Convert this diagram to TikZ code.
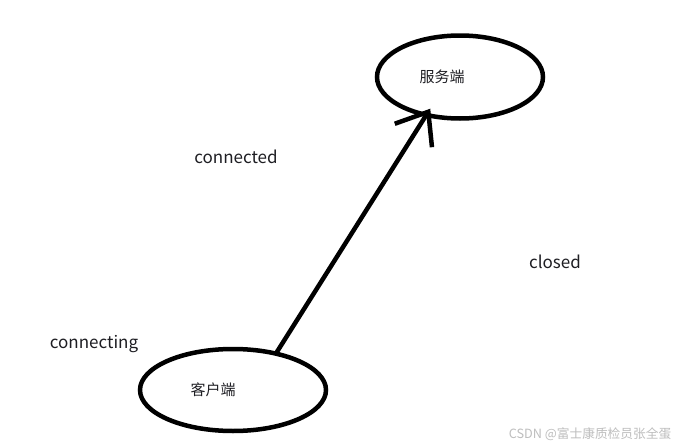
\documentclass[tikz,border=0pt]{standalone}
\usepackage{fontspec}
\setmainfont{Noto Sans CJK SC}
\usetikzlibrary{arrows.meta,shapes.geometric}
\definecolor{ink}{RGB}{30,30,35}
\definecolor{mark}{RGB}{190,190,190}

\begin{document}
\begin{tikzpicture}[x=1pt,y=-1pt,>={Straight Barb[length=28pt,width=44pt]},
  every node/.style={font=\fontsize{15}{18}\selectfont,text=ink},
  ell/.style={draw=black,ellipse,line width=4.5pt,inner sep=0pt},
  lbl/.style={font=\fontsize{17}{20}\selectfont}]
\useasboundingbox[fill=white] (0,0) rectangle (675,447);
% states
\node[ell,minimum width=166pt,minimum height=83pt] (sv) at (460,77) {};
\node[ell,minimum width=186pt,minimum height=82pt] (cl) at (233,390) {};
\node at ([xshift=-18pt]sv.center) {服务端};
\node at ([xshift=-20pt]cl.center) {客户端};
% labels
\node[lbl] (conned) at (236,157) {connected};
\node[lbl] (clsd) at (555,262) {closed};
\node[lbl] (conning) at (94,344) {connecting};
\draw[->,line width=4.5pt,line cap=round] (cl.41) -- ([shift={(6pt,8pt)}]sv.228);
\node[font=\fontsize{12.7}{14}\selectfont,text=mark] (wm) at (590,434) {CSDN @富士康质检员张全蛋};
\end{tikzpicture}
\end{document}
